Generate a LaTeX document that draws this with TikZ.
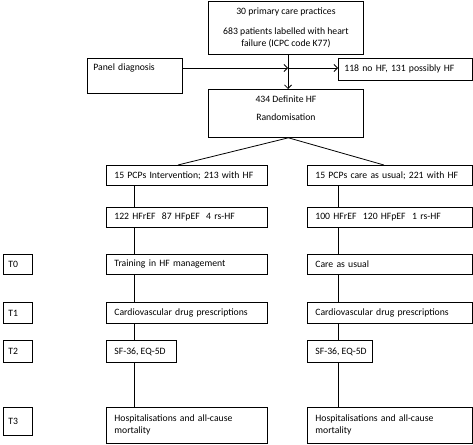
\documentclass[tikz,border=0pt]{standalone}
\usepackage{fontspec}
\setmainfont{Carlito}
\usetikzlibrary{arrows.meta,calc}
\tikzset{
  box/.style={draw, line width=0.8pt, inner sep=0pt, anchor=north west,
    font=\fontsize{9.7}{12}\selectfont, align=left},
  cbox/.style={draw, line width=0.8pt, inner sep=0pt, anchor=north west,
    font=\fontsize{9.7}{12}\selectfont, align=center},
  conn/.style={line width=0.8pt},
  arr/.style={line width=0.8pt, -{Straight Barb[length=3.5pt,width=7pt,line width=0.8pt]}}
}
\begin{document}
\begin{tikzpicture}[x=1pt,y=-1pt]
\useasboundingbox (0,0) rectangle (473,444);
% top part
\node[cbox, minimum width=155pt, minimum height=53pt] (top) at (208,1)
  {30 primary care practices\\[8pt]683 patients labelled with heart\\failure (ICPC code K77)};
\node[box, minimum width=95pt, minimum height=35pt, text width=83pt] (panel) at (87,58)
  {Panel diagnosis\\[5pt]\mbox{}};
\node[box, minimum width=134pt, minimum height=22pt, text width=122pt] (nohf) at (338,58)
  {118 no HF, 131 possibly HF};
\node[cbox, minimum width=155pt, minimum height=48pt] (def) at (208,89)
  {434 Definite HF\\[6pt]Randomisation\\[-2pt]\mbox{}};
\coordinate (cx) at (288,0);
\coordinate (hy) at (0,68);
% left column
\node[box, minimum width=161pt, minimum height=20pt, text width=145pt] (l1) at (106,165) {15 PCPs Intervention; 213 with HF};
\node[box, minimum width=161pt, minimum height=20pt, text width=145pt] (l2) at (106,207) {122 HFrEF\ \ 87 HFpEF\ \ 4 rs-HF};
\node[box, minimum width=161pt, minimum height=20pt, text width=145pt] (l3) at (106,254) {Training in HF management};
\node[box, minimum width=161pt, minimum height=21pt, text width=145pt] (l4) at (106,302) {Cardiovascular drug prescriptions};
\node[box, minimum width=70pt, minimum height=22pt] (l5) at (106,340) {\makebox[54pt][l]{SF-36, EQ-5D}};
\node[box, minimum width=161pt, minimum height=36pt, text width=145pt] (l6) at (106,407) {Hospitalisations and all-cause\\mortality};
% right column
\node[box, minimum width=165pt, minimum height=20pt, text width=149pt] (r1) at (307,165) {15 PCPs care as usual; 221 with HF};
\node[box, minimum width=165pt, minimum height=20pt, text width=149pt] (r2) at (307,207) {100 HFrEF\ \ 120 HFpEF\ \ 1 rs-HF};
\node[box, minimum width=165pt, minimum height=20pt, text width=149pt] (r3) at (307,254) {Care as usual};
\node[box, minimum width=165pt, minimum height=21pt, text width=149pt] (r4) at (307,302) {Cardiovascular drug prescriptions};
\node[box, minimum width=65pt, minimum height=22pt] (r5) at (307,340) {\makebox[49pt][l]{SF-36, EQ-5D}};
\node[box, minimum width=165pt, minimum height=36pt, text width=149pt] (r6) at (307,407) {Hospitalisations and all-cause\\mortality};
% time labels
\node[box, minimum width=29pt, minimum height=20pt, text width=19pt] (t0) at (3,254) {T0};
\node[box, minimum width=29pt, minimum height=21pt, text width=19pt] (t1) at (3,302) {T1};
\node[box, minimum width=29pt, minimum height=22pt, text width=19pt] (t2) at (3,340) {T2};
\node[box, minimum width=29pt, minimum height=28pt, text width=19pt] (t3) at (3,407) {T3};
% connectors
\draw[arr] (top.south -| cx) -- (def.north -| cx);
\draw[arr] (panel.east |- hy) -- (cx |- hy);
\draw[arr] (cx |- hy) -- (nohf.west |- hy);
\draw[conn] ([xshift=2.5pt]def.south) -- ([xshift=-9pt]l1.north);
\draw[conn] ([xshift=2.5pt]def.south) -- ([xshift=-6pt]r1.north);
\coordinate (lx) at (134,0);
\coordinate (rx) at (338,0);
\draw[conn] (l1.south -| lx) -- (l2.north -| lx);
\draw[conn] (l2.south -| lx) -- (l3.north -| lx);
\draw[conn] (l3.south -| lx) -- (l4.north -| lx);
\draw[conn] (l4.south -| lx) -- (l5.north -| lx);
\draw[conn] (l5.south -| lx) -- (l6.north -| lx);
\draw[conn] (r1.south -| rx) -- (r2.north -| rx);
\draw[conn] (r2.south -| rx) -- (r3.north -| rx);
\draw[conn] (r3.south -| rx) -- (r4.north -| rx);
\draw[conn] (r4.south -| rx) -- (r5.north -| rx);
\draw[conn] (r5.south -| rx) -- (r6.north -| rx);
\end{tikzpicture}
\end{document}
